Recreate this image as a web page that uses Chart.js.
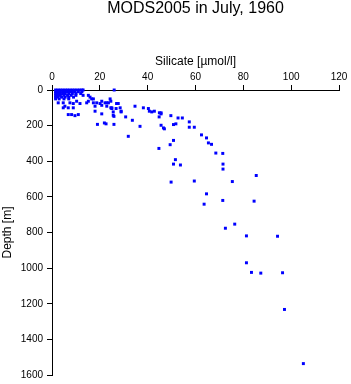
<!DOCTYPE html>
<html lang="en">
<head>
<meta charset="UTF-8">
<title>MODS2005 in July, 1960</title>
<script src="https://cdn.jsdelivr.net/npm/chart.js@4/dist/chart.umd.min.js"></script>
<style>
  html, body { margin: 0; padding: 0; background: #fff; }
</style>
</head>
<body>
<canvas id="chart" width="351" height="384"></canvas>
<script>
// Depth levels [m] and silicate values [µmol/l] read at each level
const depthLevels = [
  0, 10, 20, 30, 40, 50, 63, 72, 76, 86, 91, 100, 104, 119, 123, 128, 134, 138,
  142, 144, 148, 151, 157, 170, 179, 185, 190, 193, 194, 198, 204, 209, 213, 218,
  252, 260, 269, 283, 297, 305, 307, 328, 354, 356, 391, 416, 421, 444, 480, 511,
  514, 517, 583, 620, 624, 641, 753, 776, 819, 821, 970, 1024, 1026, 1028, 1232, 1536
];
const silicateByLevel = [
  [1.5, 2.5, 3.5, 4.5, 5.5, 6.5, 7.5, 8.5, 9.5, 10.5, 11.5, 12.5, 13, 26],
  [1.5, 2.5, 3.5, 4.5, 5.5, 6.5, 7.5, 8.5, 9.5, 11, 12.5],
  [1.5, 2.5, 3.5, 4.5, 5.5, 7, 8.5, 10, 12],
  [1.5, 2.5, 3.5, 5, 6.5, 8, 10, 13, 15.2],
  [1.5, 2.5, 4, 5.5, 7, 9, 15.9],
  [1.5, 3, 5, 7, 16.6, 17.3, 24.3],
  [10.3, 15.2, 20.8, 24.6],
  [2.6, 4.7, 7.5, 14.5, 17.3, 18.7, 22.2, 22.9, 23.6],
  [8.9, 11.7, 20.1, 27, 27.3, 27.7],
  [20.8],
  [5.4, 18, 22.9, 34.7],
  [4.7, 6.8, 8.9, 24.6, 25, 28.5, 38.2],
  [25, 26.8, 40.3],
  [18, 28.9, 40.7, 42.8],
  [25.6, 28.9, 41.7],
  [44.9, 45.6],
  [20.8, 45.6],
  [6.8, 8.2, 11],
  [25.6],
  [9.6, 49.7],
  [25.9],
  [30.8, 44.8],
  [52.7, 54.5],
  [33.6],
  [57.4],
  [21.9],
  [22.6, 51.8],
  [19, 25.9],
  [50.8],
  [45.6],
  [36.8],
  [57.4, 59.5],
  [46.6],
  [47],
  [62.5],
  [31.9],
  [64.6],
  [50.8],
  [65.4],
  [66.7],
  [49.4],
  [44.7],
  [68.5],
  [71.4],
  [51.6],
  [50.8, 71.5],
  [53.7],
  [71.5],
  [85.4],
  [59.5],
  [75.4],
  [49.8],
  [64.6],
  [71.4],
  [84.5],
  [63.6],
  [76.4],
  [72.5],
  [81.3],
  [94.3],
  [81.3],
  [83.4],
  [96.4],
  [87.3],
  [97.2],
  [105.1]
];

const points = [];
depthLevels.forEach((d, i) => {
  silicateByLevel[i].forEach(s => points.push({ x: s, y: d }));
});

Chart.defaults.font.family = '"Liberation Sans", Arial, Helvetica, sans-serif';
Chart.defaults.color = '#000';

const ctx = document.getElementById('chart').getContext('2d');
new Chart(ctx, {
  type: 'scatter',
  data: {
    datasets: [{
      data: points,
      pointStyle: 'rect',
      pointRadius: 2.1,
      pointHoverRadius: 2.1,
      backgroundColor: '#0000ff',
      borderWidth: 0,
      clip: false
    }]
  },
  options: {
    responsive: false,
    animation: false,
    events: [],
    layout: { padding: { left: 0, right: 12, top: 0, bottom: 9 } },
    plugins: {
      legend: { display: false },
      tooltip: { enabled: false },
      title: {
        display: true,
        text: 'MODS2005 in July, 1960',
        fullSize: false,
        color: '#000',
        font: { size: 16, weight: 'normal', lineHeight: 1 },
        padding: { top: 1, bottom: 0 }
      }
    },
    scales: {
      x: {
        type: 'linear',
        position: 'top',
        min: 0,
        max: 120,
        ticks: { stepSize: 20, font: { size: 10 }, padding: 2, maxRotation: 0,
                 callback: v => String(v) },
        grid: { drawOnChartArea: false, tickLength: 5, color: '#000' },
        border: { color: '#000', width: 1 },
        title: {
          display: true,
          text: 'Silicate [µmol/l]',
          font: { size: 12 },
          padding: { top: 37, bottom: 0 }
        },
        afterFit(scale) {
          scale.height = 73;
          scale.paddingLeft = 0;
          scale.paddingRight = 0;
        }
      },
      y: {
        type: 'linear',
        reverse: true,
        min: 0,
        max: 1600,
        ticks: { stepSize: 200, font: { size: 10 }, padding: 4,
                 callback: v => String(v) },
        grid: { drawOnChartArea: false, tickLength: 5, color: '#000' },
        border: { color: '#000', width: 1 },
        title: {
          display: true,
          text: 'Depth [m]',
          font: { size: 12 },
          padding: { top: 0, bottom: 0 }
        },
        afterFit(scale) {
          scale.width = 52;
          scale.paddingTop = 0;
          scale.paddingBottom = 0;
        }
      }
    }
  }
});
</script>
</body>
</html>
